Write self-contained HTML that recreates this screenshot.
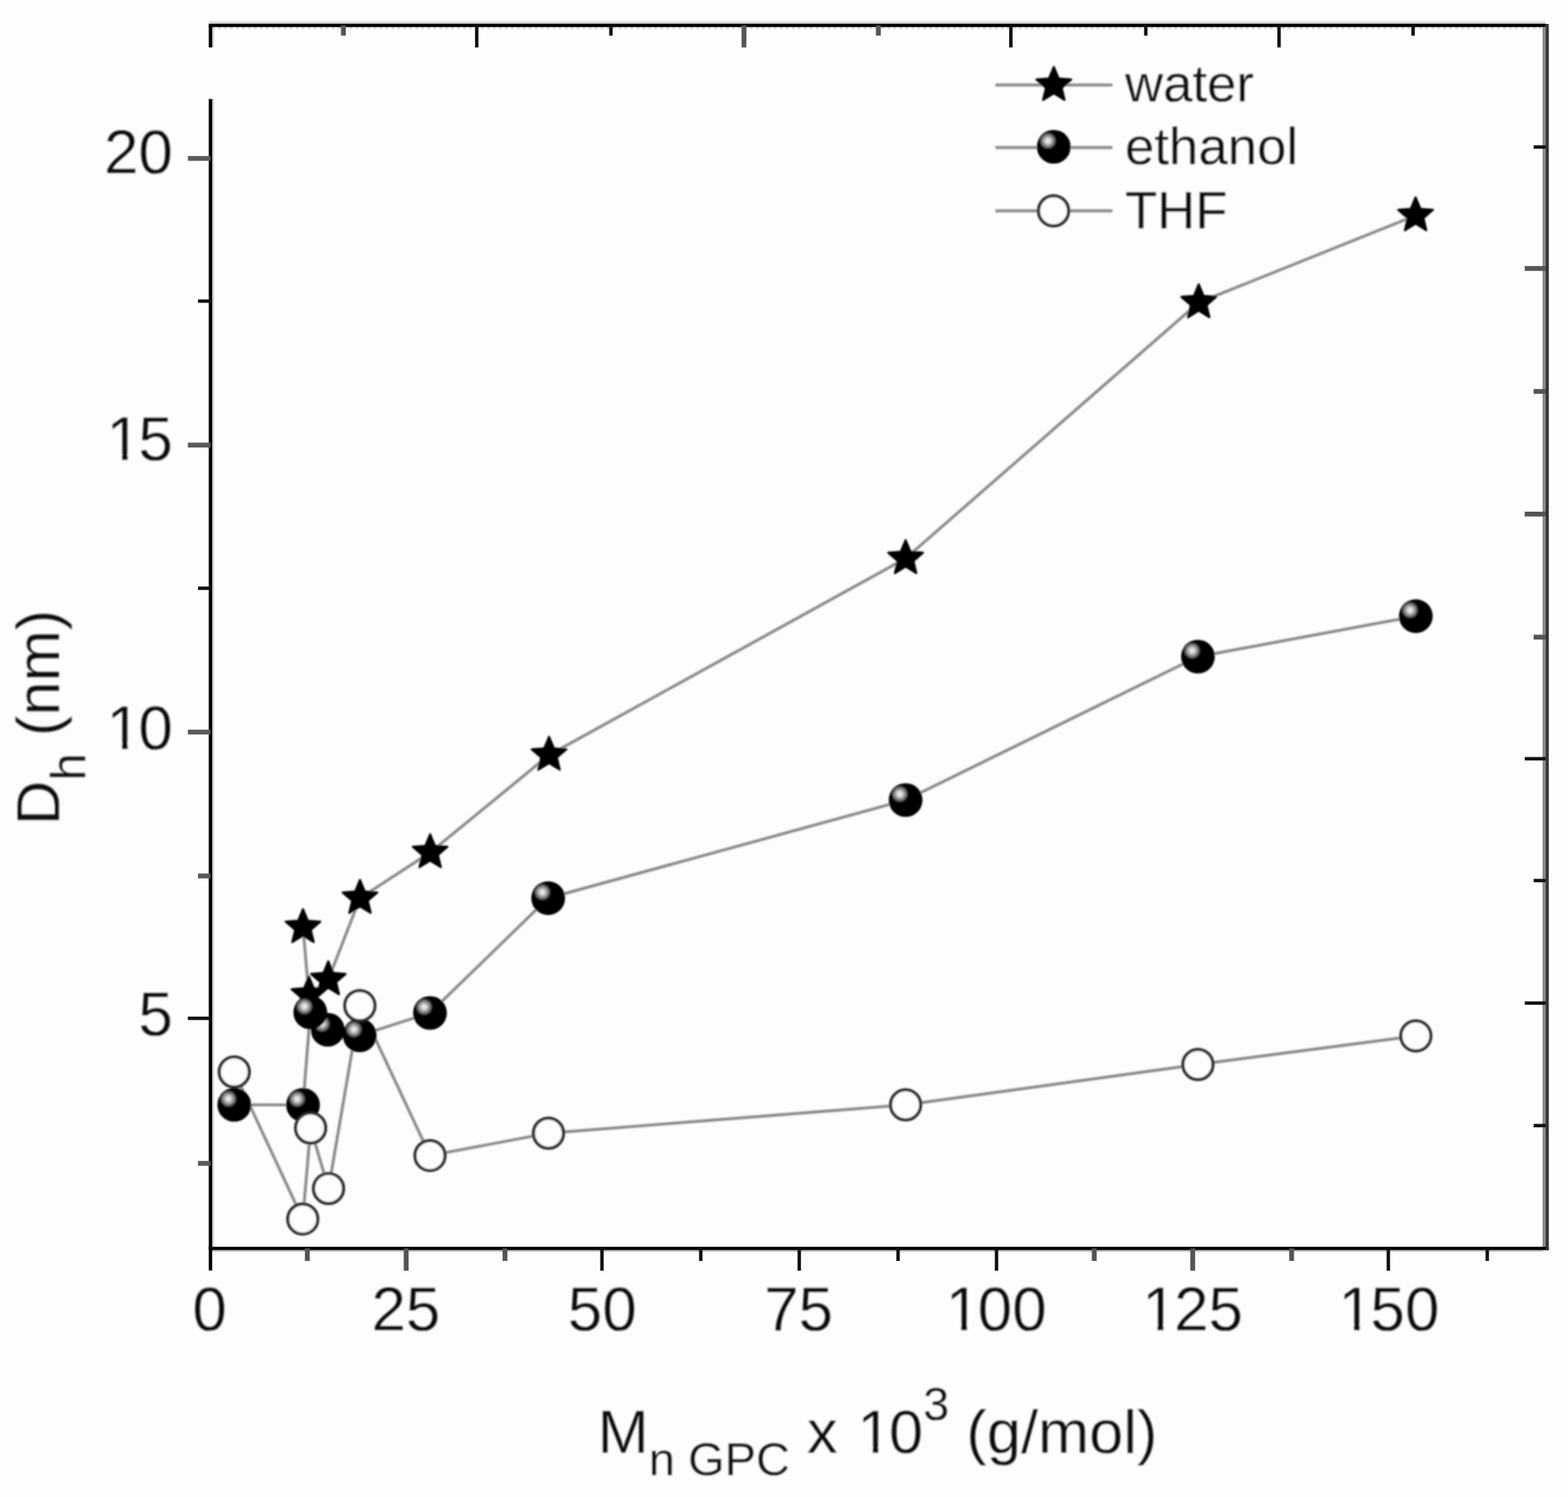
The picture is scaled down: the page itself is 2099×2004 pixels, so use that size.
<!DOCTYPE html>
<html lang="en"><head><meta charset="utf-8"><title>Dh vs Mn GPC</title>
<style>html,body{margin:0;padding:0;background:#fdfdfd;}body{width:2099px;height:2004px;overflow:hidden;}svg{display:block;position:absolute;left:0;top:0;}text{font-family:"Liberation Sans",sans-serif;fill:#0a0a0a;stroke:#fdfdfd;stroke-width:0.3px;}</style></head><body>
<svg width="2099" height="2004" viewBox="0 0 2099 2004">
<defs><filter id="soft" x="0" y="0" width="2099" height="2004" filterUnits="userSpaceOnUse"><feGaussianBlur stdDeviation="1.1"/></filter><radialGradient id="hl" cx="0.5" cy="0.5" r="0.5"><stop offset="0" stop-color="#f0f0f0"/><stop offset="0.25" stop-color="#dedede"/><stop offset="0.5" stop-color="#a4a4a4"/><stop offset="0.75" stop-color="#6a6a6a"/><stop offset="0.92" stop-color="#2a2a2a"/><stop offset="1" stop-color="#000"/></radialGradient></defs>
<rect width="2099" height="2004" fill="#fdfdfd"/>
<g id="plot">
<line x1="279.5" y1="30.2" x2="2068.8" y2="30.2" stroke="#dcdcdc" stroke-width="3.8"/>
<line x1="283.8" y1="37.6" x2="2066" y2="37.6" stroke="#dadada" stroke-width="3" stroke-dasharray="4 4"/>
<line x1="285.2" y1="36.0" x2="285.2" y2="63.5" stroke="#d2d2d2" stroke-width="2.4"/>
<line x1="285.2" y1="132.5" x2="285.2" y2="1671.3" stroke="#d2d2d2" stroke-width="2.4"/>
<line x1="281.8" y1="1674.6" x2="2066.0" y2="1674.6" stroke="#c4c4c4" stroke-width="2.4"/>
<line x1="279.5" y1="34.0" x2="2069.0" y2="34.0" stroke="#000" stroke-width="4.4"/>
<line x1="279.5" y1="1671.3" x2="2073.3" y2="1671.3" stroke="#000" stroke-width="4.6"/>
<line x1="281.8" y1="132.5" x2="281.8" y2="1700.8" stroke="#000" stroke-width="4.6"/>
<line x1="281.8" y1="34.0" x2="281.8" y2="63.5" stroke="#000" stroke-width="4.6"/>
<line x1="2067.1" y1="36.0" x2="2067.1" y2="1669.0" stroke="#8a8a8a" stroke-width="4.2"/>
<line x1="2071.2" y1="32.0" x2="2071.2" y2="1673.6" stroke="#333" stroke-width="4.2"/>
<line x1="459.7" y1="34.0" x2="459.7" y2="47.7" stroke="#555" stroke-width="6.5"/>
<line x1="638.2" y1="34.0" x2="638.2" y2="63.5" stroke="#111" stroke-width="4.6"/>
<line x1="817.8" y1="34.0" x2="817.8" y2="47.7" stroke="#111" stroke-width="4.6"/>
<line x1="995.9" y1="34.0" x2="995.9" y2="63.5" stroke="#555" stroke-width="6.5"/>
<line x1="1175.8" y1="34.0" x2="1175.8" y2="47.7" stroke="#555" stroke-width="6.5"/>
<line x1="1353.2" y1="34.0" x2="1353.2" y2="63.5" stroke="#111" stroke-width="4.6"/>
<line x1="1533.8" y1="34.0" x2="1533.8" y2="47.7" stroke="#111" stroke-width="4.6"/>
<line x1="1712.2" y1="34.0" x2="1712.2" y2="63.5" stroke="#111" stroke-width="4.6"/>
<line x1="1891.6" y1="34.0" x2="1891.6" y2="47.7" stroke="#111" stroke-width="4.6"/>
<line x1="411.4" y1="1671.3" x2="411.4" y2="1688.0" stroke="#555" stroke-width="6.5"/>
<line x1="543.7" y1="1671.3" x2="543.7" y2="1701.0" stroke="#555" stroke-width="6.5"/>
<line x1="676.0" y1="1671.3" x2="676.0" y2="1688.0" stroke="#555" stroke-width="6.5"/>
<line x1="805.8" y1="1671.3" x2="805.8" y2="1701.0" stroke="#111" stroke-width="4.6"/>
<line x1="938.1" y1="1671.3" x2="938.1" y2="1688.0" stroke="#111" stroke-width="4.6"/>
<line x1="1069.9" y1="1671.3" x2="1069.9" y2="1701.0" stroke="#111" stroke-width="4.6"/>
<line x1="1202.2" y1="1671.3" x2="1202.2" y2="1688.0" stroke="#111" stroke-width="4.6"/>
<line x1="1334.0" y1="1671.3" x2="1334.0" y2="1701.0" stroke="#111" stroke-width="4.6"/>
<line x1="1464.8" y1="1671.3" x2="1464.8" y2="1688.0" stroke="#555" stroke-width="6.5"/>
<line x1="1596.6" y1="1671.3" x2="1596.6" y2="1701.0" stroke="#555" stroke-width="6.5"/>
<line x1="1729.0" y1="1671.3" x2="1729.0" y2="1688.0" stroke="#555" stroke-width="6.5"/>
<line x1="1858.5" y1="1671.3" x2="1858.5" y2="1701.0" stroke="#111" stroke-width="4.6"/>
<line x1="1990.9" y1="1671.3" x2="1990.9" y2="1688.0" stroke="#111" stroke-width="4.6"/>
<line x1="251.5" y1="212.1" x2="281.8" y2="212.1" stroke="#5a5a5a" stroke-width="6.5"/>
<line x1="265.0" y1="403.1" x2="281.8" y2="403.1" stroke="#111" stroke-width="4.6"/>
<line x1="251.5" y1="595.8" x2="281.8" y2="595.8" stroke="#5a5a5a" stroke-width="6.5"/>
<line x1="265.0" y1="787.5" x2="281.8" y2="787.5" stroke="#111" stroke-width="4.6"/>
<line x1="251.5" y1="980.0" x2="281.8" y2="980.0" stroke="#5a5a5a" stroke-width="6.5"/>
<line x1="265.0" y1="1172.6" x2="281.8" y2="1172.6" stroke="#5a5a5a" stroke-width="6.5"/>
<line x1="251.5" y1="1363.2" x2="281.8" y2="1363.2" stroke="#111" stroke-width="4.6"/>
<line x1="265.0" y1="1557.4" x2="281.8" y2="1557.4" stroke="#5a5a5a" stroke-width="6.5"/>
<line x1="2053.0" y1="196.8" x2="2069.0" y2="196.8" stroke="#111" stroke-width="4.6"/>
<line x1="2041.1" y1="359.4" x2="2069.0" y2="359.4" stroke="#555" stroke-width="6.5"/>
<line x1="2053.0" y1="524.0" x2="2069.0" y2="524.0" stroke="#555" stroke-width="6.5"/>
<line x1="2041.1" y1="688.2" x2="2069.0" y2="688.2" stroke="#555" stroke-width="6.5"/>
<line x1="2053.0" y1="852.9" x2="2069.0" y2="852.9" stroke="#555" stroke-width="6.5"/>
<line x1="2041.1" y1="1015.7" x2="2069.0" y2="1015.7" stroke="#111" stroke-width="4.6"/>
<line x1="2053.0" y1="1178.8" x2="2069.0" y2="1178.8" stroke="#111" stroke-width="4.6"/>
<line x1="2041.1" y1="1342.8" x2="2069.0" y2="1342.8" stroke="#111" stroke-width="4.6"/>
<line x1="2053.0" y1="1506.8" x2="2069.0" y2="1506.8" stroke="#111" stroke-width="4.6"/>
</g>
<g id="chart" filter="url(#soft)">
<g id="lines"><polyline points="405.6,1241.4 413.5,1331.8 439.5,1311.3 481.9,1202.3 575.8,1141.2 735.0,1010.7 1212.3,747.5 1604.7,405.0 1895.0,288.5" fill="none" stroke="#8a8a8a" stroke-width="3.9"/><polyline points="313.6,1479.0 405.6,1479.2 415.4,1355.3 438.7,1378.5 481.5,1386.0 575.6,1356.0 733.8,1202.3 1212.3,1071.0 1603.6,879.0 1895.3,824.8" fill="none" stroke="#8a8a8a" stroke-width="3.9"/><polyline points="313.6,1435.0 405.3,1631.9 415.8,1510.0 439.8,1591.1 481.7,1346.2 575.6,1546.9 734.2,1517.0 1212.3,1479.0 1603.6,1425.0 1895.3,1386.7" fill="none" stroke="#8a8a8a" stroke-width="3.9"/></g>
<g id="water"><polygon points="405.6,1216.9 412.1,1232.5 428.9,1233.8 416.1,1244.8 420.0,1261.2 405.6,1252.4 391.2,1261.2 395.1,1244.8 382.3,1233.8 399.1,1232.5" fill="#000" stroke="#000" stroke-width="2.6" stroke-linejoin="round"/><polygon points="413.5,1307.3 420.0,1322.9 436.8,1324.2 424.0,1335.2 427.9,1351.6 413.5,1342.8 399.1,1351.6 403.0,1335.2 390.2,1324.2 407.0,1322.9" fill="#000" stroke="#000" stroke-width="2.6" stroke-linejoin="round"/><polygon points="439.5,1286.8 446.0,1302.4 462.8,1303.7 450.0,1314.7 453.9,1331.1 439.5,1322.3 425.1,1331.1 429.0,1314.7 416.2,1303.7 433.0,1302.4" fill="#000" stroke="#000" stroke-width="2.6" stroke-linejoin="round"/><polygon points="481.9,1177.8 488.4,1193.4 505.2,1194.7 492.4,1205.7 496.3,1222.1 481.9,1213.3 467.5,1222.1 471.4,1205.7 458.6,1194.7 475.4,1193.4" fill="#000" stroke="#000" stroke-width="2.6" stroke-linejoin="round"/><polygon points="575.8,1116.7 582.3,1132.3 599.1,1133.6 586.3,1144.6 590.2,1161.0 575.8,1152.2 561.4,1161.0 565.3,1144.6 552.5,1133.6 569.3,1132.3" fill="#000" stroke="#000" stroke-width="2.6" stroke-linejoin="round"/><polygon points="735.0,986.2 741.5,1001.8 758.3,1003.1 745.5,1014.1 749.4,1030.5 735.0,1021.7 720.6,1030.5 724.5,1014.1 711.7,1003.1 728.5,1001.8" fill="#000" stroke="#000" stroke-width="2.6" stroke-linejoin="round"/><polygon points="1212.3,723.0 1218.8,738.6 1235.6,739.9 1222.8,750.9 1226.7,767.3 1212.3,758.5 1197.9,767.3 1201.8,750.9 1189.0,739.9 1205.8,738.6" fill="#000" stroke="#000" stroke-width="2.6" stroke-linejoin="round"/><polygon points="1604.7,380.5 1611.2,396.1 1628.0,397.4 1615.2,408.4 1619.1,424.8 1604.7,416.0 1590.3,424.8 1594.2,408.4 1581.4,397.4 1598.2,396.1" fill="#000" stroke="#000" stroke-width="2.6" stroke-linejoin="round"/><polygon points="1895.0,264.0 1901.5,279.6 1918.3,280.9 1905.5,291.9 1909.4,308.3 1895.0,299.5 1880.6,308.3 1884.5,291.9 1871.7,280.9 1888.5,279.6" fill="#000" stroke="#000" stroke-width="2.6" stroke-linejoin="round"/></g>
<g id="ethanol"><circle cx="1895.3" cy="824.8" r="22.6" fill="#000"/><circle cx="1887.5" cy="816.8" r="11.5" fill="url(#hl)"/><circle cx="1603.6" cy="879.0" r="22.6" fill="#000"/><circle cx="1595.8" cy="871.0" r="11.5" fill="url(#hl)"/><circle cx="1212.3" cy="1071.0" r="22.6" fill="#000"/><circle cx="1204.5" cy="1063.0" r="11.5" fill="url(#hl)"/><circle cx="733.8" cy="1202.3" r="22.6" fill="#000"/><circle cx="726.0" cy="1194.3" r="11.5" fill="url(#hl)"/><circle cx="575.6" cy="1356.0" r="22.6" fill="#000"/><circle cx="567.8" cy="1348.0" r="11.5" fill="url(#hl)"/><circle cx="481.5" cy="1386.0" r="22.6" fill="#000"/><circle cx="473.7" cy="1378.0" r="11.5" fill="url(#hl)"/><circle cx="438.7" cy="1378.5" r="22.6" fill="#000"/><circle cx="430.9" cy="1370.5" r="11.5" fill="url(#hl)"/><circle cx="415.4" cy="1355.3" r="22.6" fill="#000"/><circle cx="407.6" cy="1347.3" r="11.5" fill="url(#hl)"/><circle cx="405.6" cy="1479.2" r="22.6" fill="#000"/><circle cx="397.8" cy="1471.2" r="11.5" fill="url(#hl)"/><circle cx="313.6" cy="1479.0" r="22.6" fill="#000"/><circle cx="305.8" cy="1471.0" r="11.5" fill="url(#hl)"/></g>
<g id="thf"><circle cx="313.6" cy="1435.0" r="20.1" fill="#fdfdfd" stroke="#2a2a2a" stroke-width="4.2"/><circle cx="405.3" cy="1631.9" r="20.1" fill="#fdfdfd" stroke="#2a2a2a" stroke-width="4.2"/><circle cx="415.8" cy="1510.0" r="20.1" fill="#fdfdfd" stroke="#2a2a2a" stroke-width="4.2"/><circle cx="439.8" cy="1591.1" r="20.1" fill="#fdfdfd" stroke="#2a2a2a" stroke-width="4.2"/><circle cx="481.7" cy="1346.2" r="20.1" fill="#fdfdfd" stroke="#2a2a2a" stroke-width="4.2"/><circle cx="575.6" cy="1546.9" r="20.1" fill="#fdfdfd" stroke="#2a2a2a" stroke-width="4.2"/><circle cx="734.2" cy="1517.0" r="20.1" fill="#fdfdfd" stroke="#2a2a2a" stroke-width="4.2"/><circle cx="1212.3" cy="1479.0" r="20.1" fill="#fdfdfd" stroke="#2a2a2a" stroke-width="4.2"/><circle cx="1603.6" cy="1425.0" r="20.1" fill="#fdfdfd" stroke="#2a2a2a" stroke-width="4.2"/><circle cx="1895.3" cy="1386.7" r="20.1" fill="#fdfdfd" stroke="#2a2a2a" stroke-width="4.2"/></g>
<g id="legend">
<line x1="1332.5" y1="113.7" x2="1489.0" y2="113.7" stroke="#8a8a8a" stroke-width="3.9"/>
<polygon points="1410.7,89.5 1417.2,105.1 1434.0,106.4 1421.2,117.4 1425.1,133.8 1410.7,125.0 1396.3,133.8 1400.2,117.4 1387.4,106.4 1404.2,105.1" fill="#000" stroke="#000" stroke-width="2.6" stroke-linejoin="round"/>
<line x1="1332.5" y1="197.5" x2="1489.0" y2="197.5" stroke="#8a8a8a" stroke-width="3.9"/>
<circle cx="1410.6" cy="196.5" r="22.6" fill="#000"/><circle cx="1402.8" cy="188.5" r="11.5" fill="url(#hl)"/>
<line x1="1332.5" y1="282.3" x2="1489.0" y2="282.3" stroke="#8a8a8a" stroke-width="3.9"/>
<circle cx="1410.3" cy="282.3" r="20.1" fill="#fdfdfd" stroke="#2a2a2a" stroke-width="4.2"/>
<text x="1506" y="135.6" font-size="70.6">water</text>
<text x="1506" y="220.3" font-size="70.6">ethanol</text>
<text x="1506" y="305.5" font-size="70.6">THF</text>
</g>
<g id="ticklabels" font-size="83">
<text x="139.2" y="232.4">20</text>
<text x="139.2" y="616.0"><tspan dx="3.4">1</tspan><tspan dx="-3.4">5</tspan></text><rect x="147.90" y="607.80" width="15.20" height="9.40" fill="#fdfdfd"/><rect x="171.14" y="607.80" width="14.55" height="9.40" fill="#fdfdfd"/>
<text x="139.2" y="1002.5"><tspan dx="3.4">1</tspan><tspan dx="-3.4">0</tspan></text><rect x="147.90" y="994.30" width="15.20" height="9.40" fill="#fdfdfd"/><rect x="171.14" y="994.30" width="14.55" height="9.40" fill="#fdfdfd"/>
<text x="185.3" y="1385.7">5</text>
<text x="257.4" y="1781.0">0</text>
<text x="497.2" y="1781.0">25</text>
<text x="760.0" y="1781.0">50</text>
<text x="1022.9" y="1781.0">75</text>
<text x="1262.7" y="1781.0"><tspan dx="3.4">1</tspan><tspan dx="-3.4">0</tspan>0</text><rect x="1271.38" y="1772.80" width="15.20" height="9.40" fill="#fdfdfd"/><rect x="1294.62" y="1772.80" width="14.55" height="9.40" fill="#fdfdfd"/>
<text x="1525.5" y="1781.0"><tspan dx="3.4">1</tspan><tspan dx="-3.4">2</tspan>5</text><rect x="1534.23" y="1772.80" width="15.20" height="9.40" fill="#fdfdfd"/><rect x="1557.47" y="1772.80" width="14.55" height="9.40" fill="#fdfdfd"/>
<text x="1788.4" y="1781.0"><tspan dx="3.4">1</tspan><tspan dx="-3.4">5</tspan>0</text><rect x="1797.08" y="1772.80" width="15.20" height="9.40" fill="#fdfdfd"/><rect x="1820.32" y="1772.80" width="14.55" height="9.40" fill="#fdfdfd"/>
</g>
<text x="800" y="1945.3" font-size="82.2">M<tspan font-size="63" dy="30">n GPC</tspan><tspan dy="-30"> x </tspan><tspan dx="3.4">1</tspan><tspan dx="-3.4">0</tspan><tspan font-size="63" dy="-44">3</tspan><tspan dy="44"> (g/mol)</tspan></text>
<rect x="1153.01" y="1937.16" width="15.06" height="9.34" fill="#fdfdfd"/><rect x="1176.04" y="1937.16" width="14.42" height="9.34" fill="#fdfdfd"/>
<text transform="translate(79.3,1104.5) rotate(-90)" font-size="82.3">D<tspan font-size="66" dy="35">h</tspan><tspan dy="-35"> (nm)</tspan></text>
</g>
</svg></body></html>
